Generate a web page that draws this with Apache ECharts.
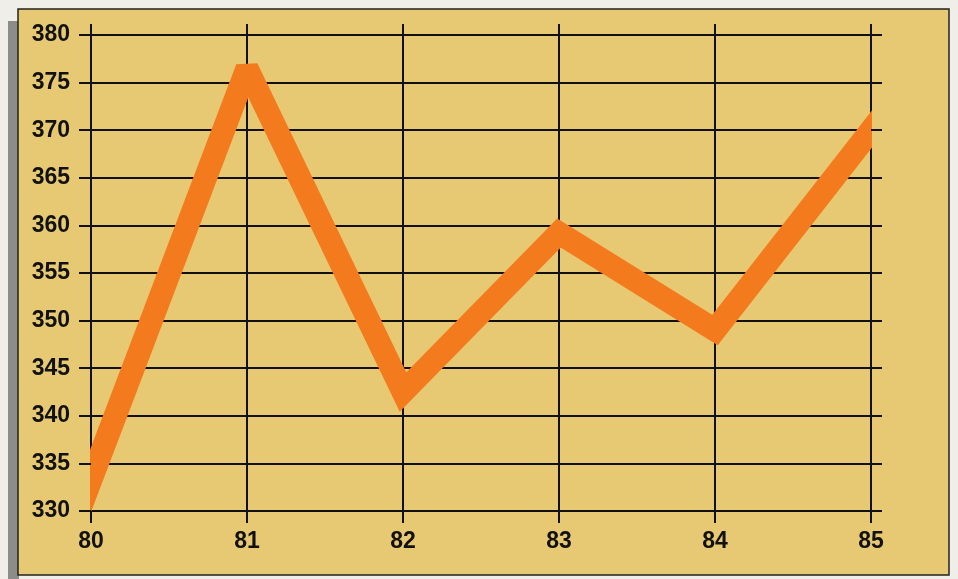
<!DOCTYPE html>
<html>
<head>
<meta charset="utf-8">
<script src="https://cdn.jsdelivr.net/npm/echarts@6/dist/echarts.min.js"></script>
<style>
html,body{margin:0;padding:0;background:#efeee9;}
#chart{width:958px;height:579px;}
</style>
</head>
<body>
<div id="chart"></div>
<script>
const years = ['80', '81', '82', '83', '84', '85'];
const values = [333.3, 376.5, 342.5, 359.2, 349.0, 370.0];
const yMin = 330, yMax = 380, yStep = 5;

// The ribbon in the original runs on past both end years and is cut off by the frame:
// continue the first and last segments along their own direction, then mask outside the plot.
const n = values.length;
const ext = 0.3;
const points = values.map((v, i) => [i, v]);
points.unshift([-ext, values[0] - ext * (values[1] - values[0])]);
points.push([n - 1 + ext, values[n - 1] + ext * (values[n - 1] - values[n - 2])]);

const tan = '#e7c974';
const chart = echarts.init(document.getElementById('chart'));
const labelFont = {color: '#111', fontSize: 23, fontWeight: 'bold', fontFamily: 'Liberation Sans, Arial, sans-serif'};
const gridLine = {color: '#111', width: 2};
const off = {show: false};

chart.setOption({
  backgroundColor: '#efeee9',
  animation: false,
  graphic: [
    {type: 'rect', z: -10, shape: {x: 8, y: 21, width: 11, height: 560}, style: {fill: '#8c8c88'}},
    {type: 'rect', z: -9, shape: {x: 18, y: 9, width: 931, height: 566}, style: {fill: tan, stroke: '#222', lineWidth: 1.5}},
    {type: 'rect', z: 8, shape: {x: 19, y: 10, width: 71, height: 564}, style: {fill: tan}},
    {type: 'rect', z: 8, shape: {x: 19, y: 512, width: 929, height: 62}, style: {fill: tan}},
    {type: 'rect', z: 8, shape: {x: 872, y: 10, width: 76, height: 564}, style: {fill: tan}},
    {type: 'rect', z: 8, shape: {x: 19, y: 10, width: 929, height: 24}, style: {fill: tan}}
  ],
  grid: {left: 91, right: 87, top: 35, bottom: 68, containLabel: false},
  xAxis: [
    {
      type: 'category', data: years, boundaryGap: false, position: 'bottom', z: 0,
      axisLine: {show: true, lineStyle: gridLine},
      axisTick: off, axisLabel: off,
      splitLine: {show: true, lineStyle: gridLine}
    },
    {
      type: 'category', data: years, boundaryGap: false, position: 'top', z: 10,
      axisLine: off,
      axisTick: {show: true, length: 11, lineStyle: gridLine},
      axisLabel: off, splitLine: off
    },
    {
      type: 'category', data: years, boundaryGap: false, position: 'bottom', z: 10,
      axisLine: off,
      axisTick: {show: true, length: 12, lineStyle: gridLine},
      axisLabel: Object.assign({margin: 19}, labelFont),
      splitLine: off
    },
    {
      type: 'value', min: 0, max: n - 1, show: false, position: 'bottom'
    }
  ],
  yAxis: [
    {
      type: 'value', min: yMin, max: yMax, interval: yStep, position: 'left', z: 0,
      axisLine: {show: true, lineStyle: gridLine},
      axisTick: off, axisLabel: off,
      splitLine: {show: true, lineStyle: gridLine}
    },
    {
      type: 'value', min: yMin, max: yMax, interval: yStep, position: 'right', z: 10,
      axisLine: off,
      axisTick: {show: true, length: 11, lineStyle: gridLine},
      axisLabel: off, splitLine: off
    },
    {
      type: 'value', min: yMin, max: yMax, interval: yStep, position: 'left', z: 10,
      axisLine: off,
      axisTick: {show: true, length: 12, lineStyle: gridLine},
      axisLabel: Object.assign({margin: 21}, labelFont),
      splitLine: off
    }
  ],
  series: [{
    type: 'line',
    data: points,
    xAxisIndex: 3, yAxisIndex: 0,
    symbol: 'none',
    clip: true,
    z: 5,
    lineStyle: {color: '#f47a1e', width: 23, join: 'miter', miterLimit: 2, cap: 'butt'}
  }]
});
</script>
</body>
</html>
